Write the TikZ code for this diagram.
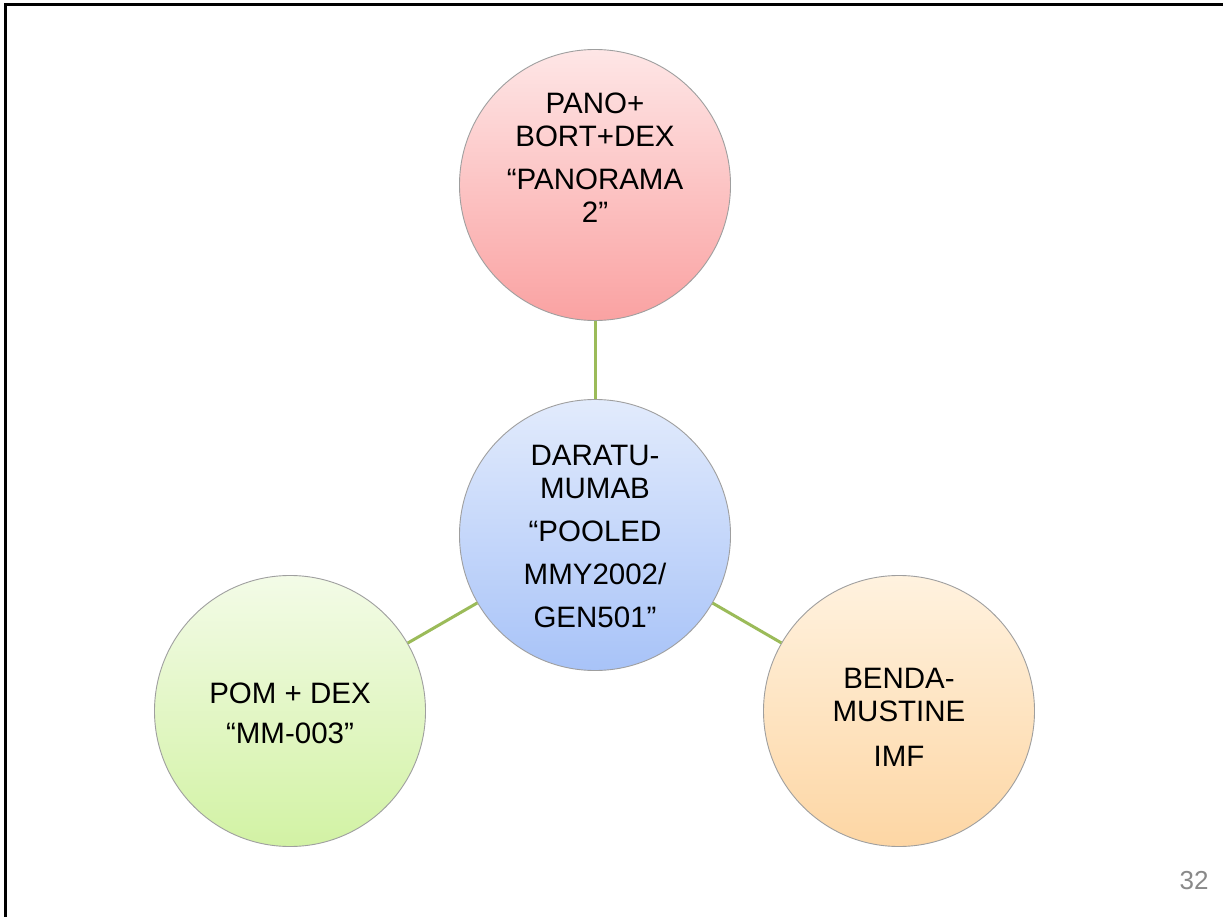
\documentclass[tikz,border=0pt]{standalone}
\usepackage{fontspec}
\setmainfont{Liberation Sans}
\begin{document}
\begin{tikzpicture}[x=1pt,y=-1pt,
  bubble/.style={circle, draw=gray!75, line width=0.9pt, minimum size=271pt,
    inner sep=0pt},
  caption/.style={align=center, text=black, inner sep=0pt,
    font=\fontsize{29.5}{33}\selectfont},
  link/.style={draw=linkgreen, line width=3pt}]
\definecolor{linkgreen}{HTML}{9BBB59}
\definecolor{redtop}{HTML}{FEE6E6}\definecolor{redbot}{HTML}{FAA2A2}
\definecolor{bluetop}{HTML}{E2EBFC}\definecolor{bluebot}{HTML}{A8C3F8}
\definecolor{greentop}{HTML}{F3FBE7}\definecolor{greenbot}{HTML}{D2F2A4}
\definecolor{orangetop}{HTML}{FFF2DF}\definecolor{orangebot}{HTML}{FDD6A4}
\definecolor{pagegray}{HTML}{898989}
\useasboundingbox (0,0) rectangle (1223,917);
\fill[white] (0,0) rectangle (1223,917);
% slide frame (top and left edges)
\draw[line width=3pt, black] (1223,5) -- (5,5) -- (5,917);

% drug-combination bubbles
\node[bubble, top color=redtop, bottom color=redbot] (pano) at (595,185) {};
\node[bubble, top color=bluetop, bottom color=bluebot] (dara) at (595,535) {};
\node[bubble, top color=greentop, bottom color=greenbot] (pom) at (290,711) {};
\node[bubble, top color=orangetop, bottom color=orangebot] (benda) at (899,711) {};

% bubble captions
\node[caption] (pano-t) at (595,158) {PANO+\\BORT+DEX\\[10pt]“PANORAMA\\2”};
\node[caption] (dara-t) at (595,536)
  {DARATU-\\MUMAB\\[10pt]“POOLED\\[10pt]MMY2002/\\[10pt]GEN501”};
\node[caption] (pom-t) at (290,713) {POM + DEX\\[7pt]“MM-003”};
\node[caption] (benda-t) at (899,717) {BENDA-\\MUSTINE\\[12pt]IMF};

% spokes from the central bubble
\draw[link] (dara) -- (pano);
\draw[link] (dara) -- (pom);
\draw[link] (dara) -- (benda);

% page number
\node[text=pagegray, font=\fontsize{26}{30}\selectfont] (page) at (1194,881) {32};
\end{tikzpicture}
\end{document}
